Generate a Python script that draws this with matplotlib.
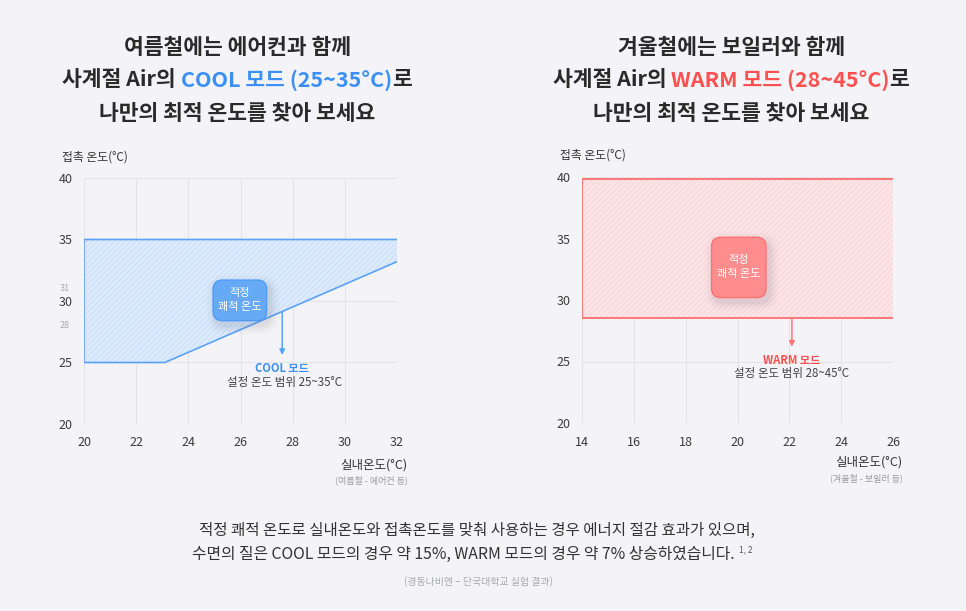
import matplotlib
matplotlib.use("Agg")
import matplotlib.pyplot as plt
from matplotlib.patches import FancyBboxPatch

plt.rcParams["font.family"] = ["Noto Sans CJK KR", "DejaVu Sans"]
plt.rcParams["hatch.linewidth"] = 0.5

# ---------------------------------------------------------------------------
# Data
# ---------------------------------------------------------------------------
cool_x = [20, 23.1, 32]          # 실내온도
cool_lower = [25, 25, 33.2]      # 접촉 온도 하한
cool_upper = [35, 35, 35]        # 접촉 온도 상한

warm_x = [14, 26]
warm_lower = [28.5, 28.5]
warm_upper = [39.8, 39.8]

cool_xticks = [20, 22, 24, 26, 28, 30, 32]
warm_xticks = [14, 16, 18, 20, 22, 24, 26]
yticks = [20, 25, 30, 35, 40]
cool_minor_yticks = [28, 31]

BG = "#f4f4f8"
BLUE = "#5aa2f8"
BLUE_T = "#3b8ff5"
RED = "#ff7676"
RED_T = "#ff5050"
DARK = "#2a2a2a"
W, H = 966, 611


def px(x, y):
    """pixel position (from top-left) -> figure fraction"""
    return x / W, 1 - y / H


def draw_parts(fig, xc, yc, parts, **kw):
    renderer = fig.canvas.get_renderer()
    texts = []
    for s, c in parts:
        fx, fy = px(0, yc)
        texts.append(fig.text(fx, fy, s, color=c, va="center", ha="left", **kw))
    widths = [t.get_window_extent(renderer).width for t in texts]
    x = xc - sum(widths) / 2
    for t, w in zip(texts, widths):
        t.set_x(x / W)
        x += w
    return x


def setup_axes(ax, xticks, xlim):
    ax.set_facecolor(BG)
    ax.set_xlim(*xlim)
    ax.set_ylim(20, 40)
    ax.set_xticks(xticks)
    ax.set_yticks(yticks)
    ax.grid(True, color="#e3e3ec", linewidth=0.8, zorder=0)
    ax.set_axisbelow(True)
    for s in ax.spines.values():
        s.set_visible(False)
    ax.tick_params(length=0, labelsize=9, labelcolor="#3c3c3c")
    ax.tick_params(axis="x", pad=9)
    ax.tick_params(axis="y", pad=8)


def comfort_box(ax, x0, y0, w, h, face, edge):
    aspect = (ax.bbox.width / (ax.get_xlim()[1] - ax.get_xlim()[0])) / \
             (ax.bbox.height / (ax.get_ylim()[1] - ax.get_ylim()[0]))
    # soft shadow
    for i, a in enumerate([0.06, 0.045, 0.03, 0.02, 0.012]):
        d = 0.08 * (i + 1)
        ax.add_patch(FancyBboxPatch((x0 + 0.12, y0 - 0.35), w, h,
                                    boxstyle=f"round,pad={d},rounding_size={0.4 + d}",
                                    mutation_aspect=aspect,
                                    facecolor="#606070", edgecolor="none", alpha=a, zorder=4))
    ax.add_patch(FancyBboxPatch((x0, y0), w, h,
                                boxstyle="round,pad=0,rounding_size=0.35",
                                mutation_aspect=aspect,
                                facecolor=face, edgecolor=edge, linewidth=1.0, zorder=5))
    ax.text(x0 + w / 2, y0 + h / 2, "적정\n쾌적 온도", ha="center", va="center",
            color="white", fontsize=8, linespacing=1.5, zorder=6)


fig = plt.figure(figsize=(W / 100, H / 100), dpi=100)
fig.patch.set_facecolor(BG)

# ---------------------------------------------------------------------------
# COOL (left)
# ---------------------------------------------------------------------------
ax1 = fig.add_axes([84 / W, 1 - 424 / H, 313 / W, 246 / H])
setup_axes(ax1, cool_xticks, (20, 32))
ax1.fill_between(cool_x, cool_lower, cool_upper, facecolor="#dceafc",
                 edgecolor="#c3dbfa", hatch="//////", linewidth=0, zorder=2)
ax1.plot([cool_x[2], cool_x[1], cool_x[0], cool_x[0], cool_x[2]],
         [cool_lower[2], cool_lower[1], cool_lower[0], cool_upper[0], cool_upper[2]],
         color=BLUE, linewidth=1.2, zorder=3, solid_joinstyle="miter")
for v in cool_minor_yticks:
    ax1.text(19.45, v, str(v), ha="right", va="center", fontsize=6.5, color="#a8a8b0")
comfort_box(ax1, 24.95, 28.4, 2.05, 3.3, "#66aaf6", "#4f9bf4")
slope = (cool_lower[2] - cool_lower[1]) / (cool_x[2] - cool_x[1])
ax_x = 27.6
ax1.annotate("", xy=(ax_x, 25.6), xytext=(ax_x, cool_lower[1] + (ax_x - cool_x[1]) * slope),
             arrowprops=dict(arrowstyle="-|>", color=BLUE, lw=1.1, mutation_scale=8,
                             shrinkA=0, shrinkB=0), zorder=6)
ax1.text(ax_x, 24.5, "COOL 모드", ha="center", va="center", color=BLUE_T,
         fontsize=8, fontweight="bold")
ax1.text(ax_x + 0.1, 23.35, "설정 온도 범위 25~35°C", ha="center", va="center",
         color="#444444", fontsize=8.3)

fig.text(*px(62, 157), "접촉 온도(°C)", ha="left", va="center", fontsize=8.5, color="#333333")
fig.text(*px(407, 465), "실내온도(°C)", ha="right", va="center", fontsize=9, color="#333333")
fig.text(*px(408, 480), "(여름철 - 에어컨 등)", ha="right", va="center", fontsize=6.5, color="#9a9aa2")

# ---------------------------------------------------------------------------
# WARM (right)
# ---------------------------------------------------------------------------
ax2 = fig.add_axes([582 / W, 1 - 423 / H, 311 / W, 246 / H])
setup_axes(ax2, warm_xticks, (14, 26))
ax2.fill_between(warm_x, warm_lower, warm_upper, facecolor="#fbe3e6",
                 edgecolor="#f6d2d6", hatch="//////", linewidth=0, zorder=2)
ax2.plot([warm_x[1], warm_x[0], warm_x[0], warm_x[1]],
         [warm_upper[1], warm_upper[0], warm_lower[0], warm_lower[1]],
         color=RED, linewidth=1.4, zorder=3, solid_joinstyle="miter")
comfort_box(ax2, 19.0, 30.2, 2.1, 4.9, "#ff8d8d", "#ff7272")
wx = 22.1
ax2.annotate("", xy=(wx, 26.2), xytext=(wx, warm_lower[0]),
             arrowprops=dict(arrowstyle="-|>", color=RED, lw=1.1, mutation_scale=8,
                             shrinkA=0, shrinkB=0), zorder=6)
ax2.text(wx, 25.1, "WARM 모드", ha="center", va="center", color=RED_T,
         fontsize=8, fontweight="bold")
ax2.text(wx, 24.05, "설정 온도 범위 28~45°C", ha="center", va="center",
         color="#444444", fontsize=8.3)

fig.text(*px(560, 155), "접촉 온도(°C)", ha="left", va="center", fontsize=8.5, color="#333333")
fig.text(*px(902, 462), "실내온도(°C)", ha="right", va="center", fontsize=9, color="#333333")
fig.text(*px(903, 478), "(겨울철 - 보일러 등)", ha="right", va="center", fontsize=6.5, color="#9a9aa2")

# ---------------------------------------------------------------------------
# Titles
# ---------------------------------------------------------------------------
tkw = dict(fontsize=15.5, fontweight="bold")
draw_parts(fig, 237, 47, [("여름철에는 에어컨과 함께", DARK)], **tkw)
draw_parts(fig, 237, 80, [("사계절 Air의 ", DARK), ("COOL 모드 (25~35°C)", BLUE_T), ("로", DARK)], **tkw)
draw_parts(fig, 237, 114, [("나만의 최적 온도를 찾아 보세요", DARK)], **tkw)

draw_parts(fig, 731, 47, [("겨울철에는 보일러와 함께", DARK)], **tkw)
draw_parts(fig, 731, 80, [("사계절 Air의 ", DARK), ("WARM 모드 (28~45°C)", RED_T), ("로", DARK)], **tkw)
draw_parts(fig, 731, 114, [("나만의 최적 온도를 찾아 보세요", DARK)], **tkw)

# ---------------------------------------------------------------------------
# Footer
# ---------------------------------------------------------------------------
draw_parts(fig, 477, 530, [("적정 쾌적 온도로 실내온도와 접촉온도를 맞춰 사용하는 경우 에너지 절감 효과가 있으며,", "#333333")],
           fontsize=11.2)
end = draw_parts(fig, 463, 554, [("수면의 질은 COOL 모드의 경우 약 15%, WARM 모드의 경우 약 7% 상승하였습니다.", "#333333")],
                 fontsize=11.4)
fig.text(*px(end + 5, 550), "1, 2", ha="left", va="center", fontsize=6, color="#555555")
fig.text(*px(478, 582), "(경동나비엔 – 단국대학교 실험 결과)", ha="center", va="center",
         fontsize=7.2, color="#a8a8b0")

fig.savefig("out.png", dpi=100, facecolor=BG)
